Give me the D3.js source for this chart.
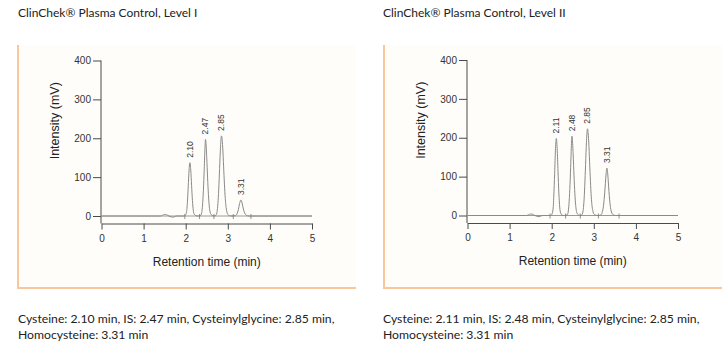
<!DOCTYPE html>
<html><head><meta charset="utf-8">
<script src="https://cdn.jsdelivr.net/npm/d3@7"></script>
<style>
html,body{margin:0;padding:0;background:#fff;}
svg{display:block;}
</style></head>
<body>
<svg id="c" width="724" height="347"></svg>
<script>
// ---------- data ----------
const titles = ["ClinChek\u00AE Plasma Control, Level I", "ClinChek\u00AE Plasma Control, Level II"];
const footers = [
  ["Cysteine: 2.10 min, IS: 2.47 min, Cysteinylglycine: 2.85 min,", "Homocysteine: 3.31 min"],
  ["Cysteine: 2.11 min, IS: 2.48 min, Cysteinylglycine: 2.85 min,", "Homocysteine: 3.31 min"]
];
const xTicks = [0, 1, 2, 3, 4, 5];
const yTicks = [0, 100, 200, 300, 400];

const timeI = [0, 1.40, 1.45, 1.50, 1.55, 1.60, 1.65, 1.70, 1.75, 1.80, 1.96,
  1.98, 2.02, 2.04, 2.06, 2.08, 2.10, 2.12, 2.14, 2.16, 2.18, 2.20, 2.24, 2.30,
  2.36, 2.38, 2.40, 2.42, 2.44, 2.46, 2.47, 2.48, 2.50, 2.52, 2.54, 2.56, 2.58, 2.60, 2.64, 2.68,
  2.72, 2.74, 2.76, 2.78, 2.80, 2.82, 2.84, 2.85, 2.86, 2.88, 2.90, 2.92, 2.94, 2.96, 2.98, 3.00, 3.04, 3.10,
  3.18, 3.22, 3.25, 3.28, 3.31, 3.34, 3.37, 3.40, 3.44, 3.50, 5.0];
const signalI = [0, 0, 2, 4, 3, 0, -2, -3, -1, 0, 0,
  1, 10, 35, 75, 118, 137, 118, 78, 40, 15, 5, 1, 0,
  2, 8, 28, 65, 120, 180, 197, 190, 150, 98, 55, 25, 10, 4, 1, 0,
  2, 8, 25, 58, 108, 162, 200, 206, 202, 175, 128, 82, 45, 22, 10, 4, 1, 0,
  1, 6, 16, 32, 41, 33, 18, 8, 2, 0, 0];

const timeII = [0, 1.40, 1.45, 1.50, 1.55, 1.60, 1.65, 1.70, 1.75, 1.80, 1.96,
  1.99, 2.03, 2.05, 2.07, 2.09, 2.11, 2.13, 2.15, 2.17, 2.19, 2.21, 2.25, 2.31,
  2.37, 2.39, 2.41, 2.43, 2.45, 2.47, 2.48, 2.49, 2.51, 2.53, 2.55, 2.57, 2.59, 2.61, 2.65, 2.68,
  2.72, 2.74, 2.76, 2.78, 2.80, 2.82, 2.84, 2.85, 2.86, 2.88, 2.90, 2.92, 2.94, 2.96, 2.98, 3.00, 3.04, 3.10,
  3.16, 3.20, 3.23, 3.26, 3.29, 3.31, 3.33, 3.36, 3.39, 3.42, 3.46, 3.52, 5.0];
const signalII = [0, 0, 2, 4, 3, 0, -2, -3, -1, 0, 0,
  1, 14, 50, 108, 172, 198, 172, 114, 58, 22, 7, 1, 0,
  2, 8, 29, 67, 124, 186, 204, 197, 156, 102, 57, 26, 10, 4, 1, 0,
  2, 9, 27, 63, 117, 175, 216, 223, 218, 189, 138, 88, 48, 23, 10, 4, 1, 0,
  1, 8, 25, 60, 104, 122, 108, 62, 26, 9, 2, 0, 0];

const peakTimesI = [2.10, 2.47, 2.85, 3.31];
const peakHeightsI = [137, 197, 206, 41];
const peakLabelsI = ["2.10", "2.47", "2.85", "3.31"];
const boundsI = [1.98, 2.33, 2.67, 3.13, 3.55];

const peakTimesII = [2.11, 2.48, 2.85, 3.31];
const peakHeightsII = [198, 204, 223, 122];
const peakLabelsII = ["2.11", "2.48", "2.85", "3.31"];
const boundsII = [1.96, 2.33, 2.68, 3.11, 3.60];

// ---------- drawing ----------
const svg = d3.select("#c");
const axisColor = "#4a4a4a";
const traceColor = "#8a8a8a";
const bodyFont = "Lato, 'Open Sans', sans-serif";
const chartFont = "'Liberation Sans', Arial, sans-serif";

function panel(o) {
  const g = svg.append("g");
  g.append("rect").attr("x", o.boxX).attr("y", 45).attr("width", o.boxW).attr("height", 244)
    .attr("fill", "#fffdf9");
  g.append("line").attr("x1", o.boxX + 1).attr("x2", o.boxX + 1).attr("y1", 45).attr("y2", 289)
    .attr("stroke", "#f8c79c").attr("stroke-width", 2);
  g.append("line").attr("x1", o.boxX).attr("x2", o.boxX + o.boxW).attr("y1", 288).attr("y2", 288)
    .attr("stroke", "#f8c79c").attr("stroke-width", 2);

  g.append("text").attr("x", o.textX).attr("y", 17).text(o.title)
    .attr("font-family", bodyFont).attr("font-size", 12).attr("fill", "#222");
  o.footer.forEach((line, i) => {
    g.append("text").attr("x", o.textX).attr("y", 323 + i * 16).text(line)
      .attr("font-family", bodyFont).attr("font-size", 12.2).attr("fill", "#222");
  });

  const x = d3.scaleLinear().domain([0, 5]).range([o.x0, o.x0 + 210.5]);
  const y = d3.scaleLinear().domain([0, 400]).range([o.y0, o.y0 - 155.5]);
  const xAxisY = o.y0 + 7.5;

  const ya = g.append("g").attr("transform", `translate(${o.x0 - 0.5},0)`)
    .call(d3.axisLeft(y).tickValues(yTicks).tickSize(8).tickSizeOuter(0).tickFormat(d3.format("d")));
  ya.select(".domain").remove();
  ya.selectAll(".tick line").attr("stroke", axisColor);
  ya.selectAll(".tick text").attr("font-family", chartFont)
    .attr("font-size", 10).attr("fill", "#333").attr("x", -10);
  g.append("line").attr("x1", o.x0 - 0.5).attr("x2", o.x0 - 0.5).attr("y1", y(400)).attr("y2", xAxisY)
    .attr("stroke", axisColor);

  const xa = g.append("g").attr("transform", `translate(0,${xAxisY})`)
    .call(d3.axisBottom(x).tickValues(xTicks).tickSize(6).tickSizeOuter(0).tickFormat(d3.format("d")));
  xa.select(".domain").attr("stroke", axisColor);
  xa.selectAll(".tick line").attr("stroke", axisColor);
  xa.selectAll(".tick text").attr("font-family", chartFont)
    .attr("font-size", 10).attr("fill", "#333").attr("y", 11);

  g.append("text").attr("x", x(2.5)).attr("y", xAxisY + 42).attr("text-anchor", "middle")
    .attr("font-family", chartFont).attr("font-size", 12).attr("fill", "#222")
    .text("Retention time (min)");
  g.append("text").attr("transform", `translate(${o.x0 - 46},${y(245)}) rotate(-90)`)
    .attr("text-anchor", "middle").attr("dominant-baseline", "middle")
    .attr("font-family", chartFont).attr("font-size", 12.5).attr("fill", "#222")
    .text("Intensity (mV)");

  g.append("line").attr("x1", x(0)).attr("x2", x(5)).attr("y1", y(0)).attr("y2", y(0))
    .attr("stroke", "#9a9a9a").attr("stroke-width", 1);

  const pts = o.time.map((t, i) => [t, o.signal[i]]);
  g.append("path").datum(pts)
    .attr("d", d3.line().x(d => x(d[0])).y(d => y(d[1])).curve(d3.curveMonotoneX))
    .attr("fill", "none").attr("stroke", traceColor).attr("stroke-width", 1);

  g.selectAll(".bd").data(o.bounds).enter().append("line")
    .attr("x1", d => x(d)).attr("x2", d => x(d)).attr("y1", y(0) - 2).attr("y2", y(0) + 3)
    .attr("stroke", "#777").attr("stroke-width", 0.8);

  o.peakTimes.forEach((t, i) => {
    g.append("text")
      .attr("transform", `translate(${x(t) + 3},${y(o.peakHeights[i]) - 5}) rotate(-90)`)
      .attr("font-family", chartFont).attr("font-size", 8.5).attr("fill", "#333")
      .text(o.peakLabels[i]);
  });
}

panel({ boxX: 17, boxW: 339, textX: 18, title: titles[0], footer: footers[0],
  x0: 101.5, y0: 216, time: timeI, signal: signalI, bounds: boundsI,
  peakTimes: peakTimesI, peakHeights: peakHeightsI, peakLabels: peakLabelsI });
panel({ boxX: 383, boxW: 339, textX: 383, title: titles[1], footer: footers[1],
  x0: 467.5, y0: 215.5, time: timeII, signal: signalII, bounds: boundsII,
  peakTimes: peakTimesII, peakHeights: peakHeightsII, peakLabels: peakLabelsII });
</script>
</body></html>
